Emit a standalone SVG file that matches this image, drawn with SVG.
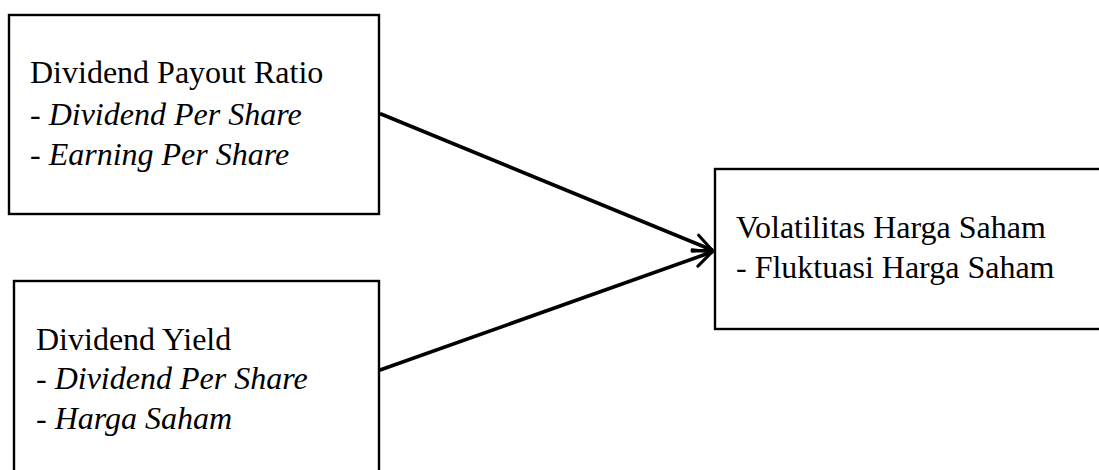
<svg xmlns="http://www.w3.org/2000/svg" width="1099" height="470" viewBox="0 0 1099 470">
<defs>
<style>
.box{fill:#fff;stroke:#000;stroke-width:2.4}
.t{font-family:"Liberation Serif","Times New Roman",serif;font-size:32px;fill:#000}
.i{font-style:italic}
.c{stroke:#000;stroke-width:3.6;fill:none;stroke-linecap:round}
</style>
<marker id="arr" viewBox="0 0 12 12" refX="11" refY="6" markerWidth="6" markerHeight="6" markerUnits="strokeWidth" orient="auto">
<path d="M1,1.2 L11,6 L1,10.8" fill="none" stroke="#000" stroke-width="1.7" stroke-linecap="round" stroke-linejoin="round"/>
</marker>
</defs>
<rect width="1099" height="470" fill="#fff"/>
<g id="node-dpr">
<rect class="box" x="9" y="15" width="370" height="199"/>
<text class="t" x="30" y="83">Dividend Payout Ratio</text>
<text class="t" x="30" y="125">- <tspan class="i">Dividend Per Share</tspan></text>
<text class="t" x="30" y="165">- <tspan class="i">Earning Per Share</tspan></text>
</g>
<g id="node-dy">
<rect class="box" x="14" y="281" width="365" height="200"/>
<text class="t" x="36" y="350">Dividend Yield</text>
<text class="t" x="36" y="389">- <tspan class="i">Dividend Per Share</tspan></text>
<text class="t" x="36" y="429">- <tspan class="i">Harga Saham</tspan></text>
</g>
<g id="node-vhs">
<rect class="box" x="715" y="169" width="400" height="160"/>
<text class="t" x="736" y="238">Volatilitas Harga Saham</text>
<text class="t" x="736" y="278">- Fluktuasi Harga Saham</text>
</g>
<g id="connectors">
<line class="c" x1="381" y1="114" x2="712" y2="250" marker-end="url(#arr)"/>
<line class="c" x1="380" y1="370" x2="712" y2="252" marker-end="url(#arr)"/>
</g>
</svg>
